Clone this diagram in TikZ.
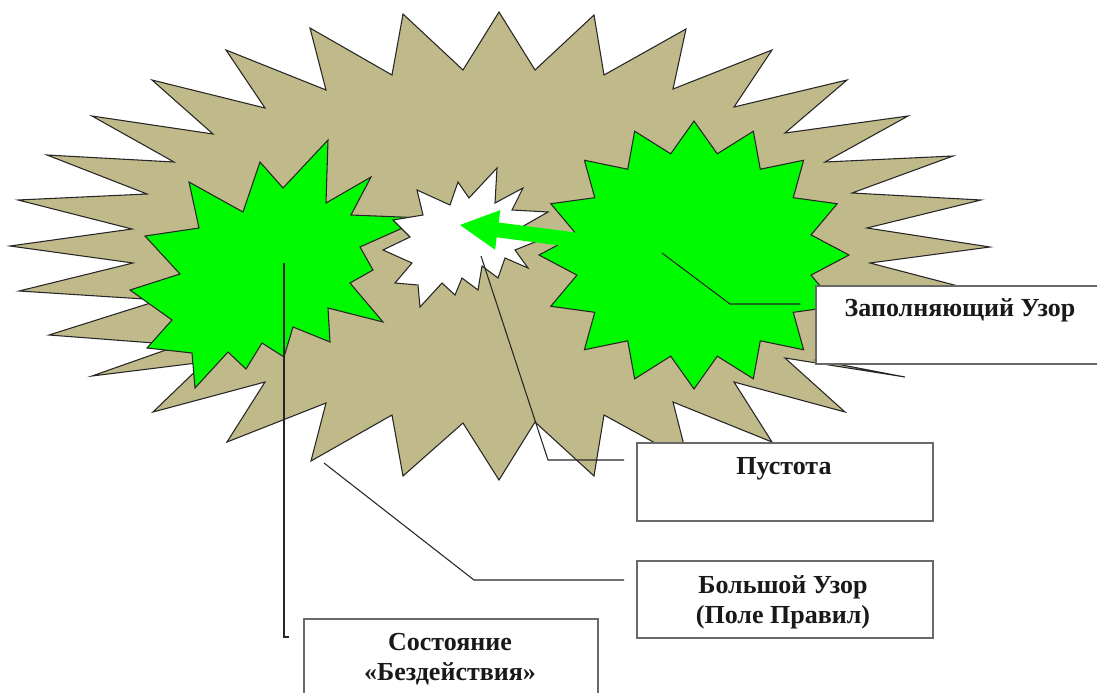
\documentclass[tikz,border=0pt]{standalone}
\usepackage{fontspec}
\setmainfont{Liberation Serif}
\definecolor{khaki}{RGB}{192,186,138}
\definecolor{lgreen}{RGB}{0,250,0}
\definecolor{boxgray}{RGB}{105,105,105}
\tikzset{
  starline/.style={draw=black!85, line width=0.8pt, line join=miter, miter limit=20},
  bigstar/.style={starline, fill=khaki},
  greenstar/.style={starline, fill=lgreen},
  voidstar/.style={starline, fill=white},
  leader/.style={draw=black!85, line width=0.8pt},
  callbox/.style={draw=boxgray, line width=1.3pt, fill=white, rectangle, inner sep=0pt, anchor=north west},
  calltext/.style={font=\fontsize{19.5}{23}\selectfont\bfseries, anchor=base, inner sep=0pt, text=black!90},
}
\begin{document}
\begin{tikzpicture}[x=0.75pt,y=-0.75pt]
\useasboundingbox (0,0) rectangle (1097,693);
\clip (0,0) rectangle (1097,693);
% big khaki starburst (field of rules)
\path[bigstar] (499,12) -- (535,70) -- (594,15) -- (604,75) -- (686,29) -- (673,89)
 -- (772,50) -- (734,107) -- (847,80) -- (785,133) -- (908,116) -- (825,162)
 -- (953,156) -- (852,193) -- (981,200) -- (867,228) -- (990,247) -- (870,263)
 -- (981,292) -- (860,305) -- (953,336) -- (816,360) -- (905,377) -- (785,358)
 -- (845,412) -- (734,382) -- (772,442) -- (673,402) -- (688,461) -- (604,415)
 -- (594,476) -- (535,422) -- (499,480) -- (463,423) -- (403,476) -- (392,415)
 -- (311,461) -- (326,403) -- (227,442) -- (265,382) -- (153,412) -- (205,362)
 -- (92,376) -- (180,345) -- (49,335) -- (160,300) -- (19,291) -- (133,263)
 -- (10,246) -- (132,229) -- (18,200) -- (147,194) -- (47,155) -- (174,162)
 -- (92,116) -- (213,134) -- (152,80) -- (265,108) -- (226,50) -- (326,90)
 -- (310,28) -- (392,75) -- (403,14) -- (463,70) -- cycle;
% left green starburst (state of inaction)
\path[greenstar] (328,140) -- (326,203) -- (371,177) -- (351,215) -- (425,218)
 -- (360,247) -- (373,270) -- (350,283) -- (383,322) -- (328,308) -- (330,342)
 -- (293,327) -- (284,357) -- (262,343) -- (246,369) -- (228,352) -- (195,388)
 -- (192,353) -- (147,348) -- (172,320) -- (130,290) -- (180,274) -- (145,236)
 -- (199,228) -- (189,182) -- (243,212) -- (260,162) -- (283,188) -- cycle;
% right green starburst (filling pattern)
\path[greenstar] plot[samples at={0,...,31}, variable=\k]
 ({694+155*(1-0.23*mod(\k,2))*cos(90-11.25*\k)}, {255-134*(1-0.23*mod(\k,2))*sin(90-11.25*\k)}) -- cycle;
% white starburst (void)
\path[voidstar] (497,168) -- (495,203) -- (523,188) -- (512,210) -- (548,212)
 -- (520,228) -- (540,240) -- (515,250) -- (528,268) -- (505,258) -- (498,278)
 -- (482,266) -- (478,290) -- (462,278) -- (455,295) -- (442,283) -- (420,307)
 -- (418,285) -- (395,283) -- (412,263) -- (383,250) -- (410,237) -- (393,220)
 -- (423,215) -- (417,190) -- (450,205) -- (458,182) -- (469,198) -- cycle;
% green arrow from the filling pattern into the void
\fill[lgreen] (460,225) -- (500.3,210.1) -- (498.7,222.5) -- (607.8,236.7)
 -- (605.8,251.5) -- (496.7,237.3) -- (495.1,249.7) -- cycle;
% callout boxes (sizes in pt: 1px = 0.75pt)
\node[callbox, minimum width=225pt, minimum height=58.5pt] (boxZ) at (815,285) {};
\node[callbox, minimum width=222pt, minimum height=58.5pt] (boxP) at (636,442) {};
\node[callbox, minimum width=222pt, minimum height=57.75pt] (boxB) at (636,560) {};
\node[callbox, minimum width=220.5pt, minimum height=75pt] (boxS) at (303,618) {};
% texts
\node[calltext] (tZ) at (960,316) {Заполняющий Узор};
\node[calltext] (tP) at (784,474) {Пустота};
\node[calltext] (tB1) at (783,593) {Большой Узор};
\node[calltext] (tB2) at (783,623) {(Поле Правил)};
\node[calltext] (tS1) at (450,650) {Состояние};
\node[calltext] (tS2) at (450,680) {«Бездействия»};
% leader coordinates
\coordinate (zA) at (662,253);
\coordinate (zB) at (730,304);
\coordinate (zC) at ([xshift=-11pt]boxZ.west |- zB);
\coordinate (pA) at (481,256);
\coordinate (pB) at (548,460);
\coordinate (pC) at ([xshift=-9pt]boxP.west |- pB);
\coordinate (bA) at (324,463);
\coordinate (bB) at (474,580);
\coordinate (bC) at ([xshift=-9pt]boxB.west |- bB);
\coordinate (sA) at (284,263);
\coordinate (sB) at (284,637);
\coordinate (sC) at (289,637);
\draw[leader] (zA) -- (zB) -- (zC);
\draw[leader] (pA) -- (pB) -- (pC);
\draw[leader] (bA) -- (bB) -- (bC);
\draw[leader] (sA) -- (sB) -- (sC);
\end{tikzpicture}
\end{document}
